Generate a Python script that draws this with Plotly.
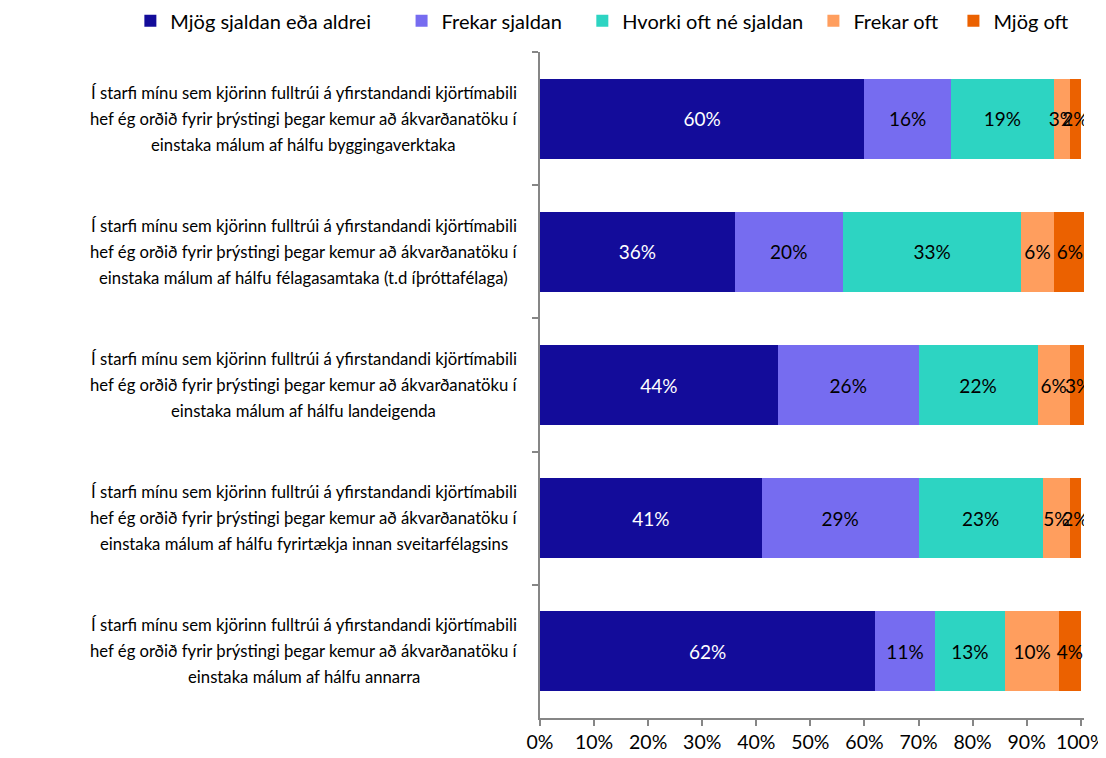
import plotly.graph_objects as go

categories = [
    "byggingaverktaka",
    "félagasamtaka (t.d íþróttafélaga)",
    "landeigenda",
    "fyrirtækja innan sveitarfélagsins",
    "annarra",
]
line1 = "Í starfi mínu sem kjörinn fulltrúi á yfirstandandi kjörtímabili"
line2 = "hef ég orðið fyrir þrýstingi þegar kemur að ákvarðanatöku í"
line3_prefix = "einstaka málum af hálfu "

series_names = ["Mjög sjaldan eða aldrei", "Frekar sjaldan", "Hvorki oft né sjaldan", "Frekar oft", "Mjög oft"]
mjog_sjaldan = [60, 36, 44, 41, 62]
frekar_sjaldan = [16, 20, 26, 29, 11]
hvorki = [19, 33, 22, 23, 13]
frekar_oft = [3, 6, 6, 5, 10]
mjog_oft = [2, 6, 3, 2, 4]
series_values = [mjog_sjaldan, frekar_sjaldan, hvorki, frekar_oft, mjog_oft]
colors = ["#130C9A", "#766CF0", "#2DD4C2", "#FF9E5E", "#EB6100"]
text_colors = ["white", "black", "black", "black", "black"]
x_ticks = [0, 10, 20, 30, 40, 50, 60, 70, 80, 90, 100]
x_ticktext = [f"{v}%" for v in x_ticks]

FONT = "Lato"
legend_pad = [5, 3, 1, 2, 0]  # spacing after each legend entry (non-breaking spaces)

fig = go.Figure()
for name, vals, col, tcol, pad in zip(series_names, series_values, colors, text_colors, legend_pad):
    fig.add_trace(go.Bar(
        y=categories, x=vals, name=name + "\u00a0" * pad, orientation="h",
        marker=dict(color=col, line=dict(width=0)),
        text=[f"{v}%" for v in vals], textposition="inside",
        insidetextanchor="middle", textangle=0, constraintext="none",
        textfont=dict(color=tcol, size=19, family=FONT),
    ))

annotations = []
for c in categories:
    for txt, shift in [(line1, 26), (line2, 0), (line3_prefix + c, -26)]:
        annotations.append(dict(
            text=txt, xref="paper", yref="y", x=-0.434, y=c, yshift=shift,
            xanchor="center", yanchor="middle", showarrow=False,
            font=dict(family=FONT, size=16.7, color="black"),
        ))

fig.update_layout(
    barmode="stack",
    bargap=0.4,
    width=1098, height=750,
    margin=dict(l=532, r=22, t=44, b=40, autoexpand=False),
    paper_bgcolor="white", plot_bgcolor="white",
    font=dict(family=FONT, size=16, color="black"),
    uniformtext=dict(minsize=19, mode="show"),
    legend=dict(orientation="h", x=-0.753, xanchor="left", y=1.047, yanchor="middle",
                font=dict(size=20, family=FONT), traceorder="normal",
                itemwidth=30),
    annotations=annotations,
    xaxis=dict(range=[0, 100.6], tickvals=x_ticks, ticktext=x_ticktext,
               showgrid=False, zeroline=False, showline=True, automargin=False,
               linecolor="#868686", linewidth=1.5, ticks="outside",
               tickcolor="#868686", ticklen=6, tickwidth=1.5,
               ticklabeloverflow="allow",
               tickfont=dict(size=19.5, family=FONT)),
    yaxis=dict(categoryorder="array", categoryarray=categories,
               autorange="reversed", showticklabels=False, automargin=False,
               showgrid=False, zeroline=False, showline=True,
               linecolor="#868686", linewidth=1.5, ticks="outside",
               tickson="boundaries", tickcolor="#868686", ticklen=6, tickwidth=1.5),
)

fig.write_html("out.html")
